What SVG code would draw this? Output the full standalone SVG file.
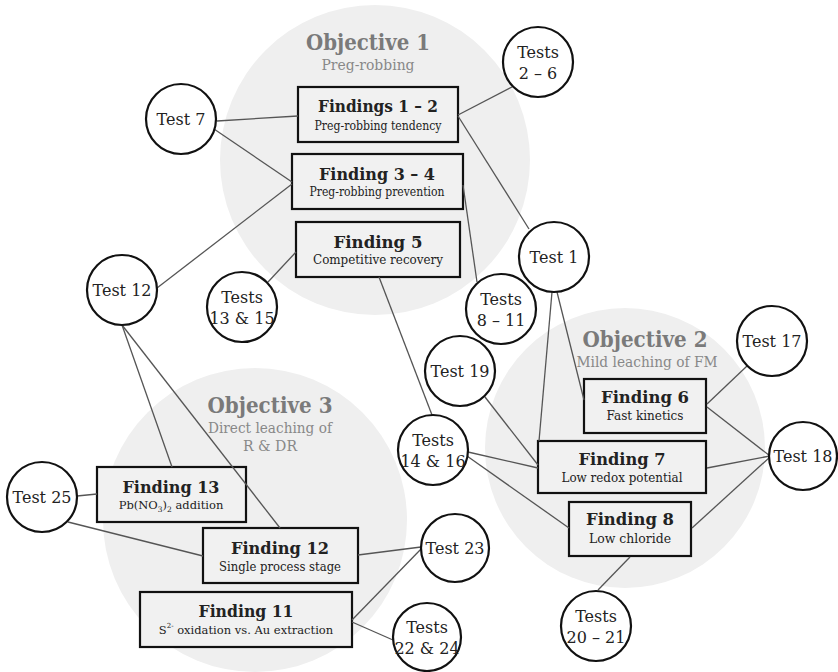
<svg xmlns="http://www.w3.org/2000/svg" width="838" height="672" viewBox="0 0 838 672">
<style>
.bg{fill:#efefef;stroke:none}
.box{fill:#f1f1f1;stroke:#111;stroke-width:2.2}
.tc{fill:#fff;stroke:#111;stroke-width:2.2}
.ln{stroke:#555;stroke-width:1.3;fill:none}
text{font-family:"DejaVu Serif","Liberation Serif",serif;text-anchor:middle;fill:#222}
.ft{font-size:16px;font-weight:bold}
.fs{font-size:13px}
.fs2{font-size:11.5px}
.tt{font-size:16px}
.ot{font-size:22px;font-weight:bold;fill:#7a7a7a}
.os{font-size:14px;fill:#888}
</style>
<rect width="838" height="672" fill="#fff"/>
<g id="objective1">
<circle class="bg" cx="375" cy="160" r="155"/>
<text class="ot" x="368" y="50" textLength="124" lengthAdjust="spacingAndGlyphs">Objective 1</text>
<text class="os" x="368" y="70" textLength="93" lengthAdjust="spacingAndGlyphs">Preg-robbing</text>
</g>
<g id="objective2">
<circle class="bg" cx="625" cy="448" r="140"/>
<text class="ot" x="645" y="347" textLength="125" lengthAdjust="spacingAndGlyphs">Objective 2</text>
<text class="os" x="647" y="367" textLength="141" lengthAdjust="spacingAndGlyphs">Mild leaching of FM</text>
</g>
<g id="objective3">
<circle class="bg" cx="255" cy="520" r="152"/>
<text class="ot" x="270" y="413" textLength="125" lengthAdjust="spacingAndGlyphs">Objective 3</text>
<text class="os" x="270" y="433" textLength="124" lengthAdjust="spacingAndGlyphs">Direct leaching of</text>
<text class="os" x="270" y="451" textLength="54" lengthAdjust="spacingAndGlyphs">R &amp; DR</text>
</g>
<g id="f12n"><rect class="box" x="298" y="87" width="160" height="55"/><text class="ft" x="378" y="112" textLength="120" lengthAdjust="spacingAndGlyphs">Findings 1 – 2</text><text class="fs" x="378" y="130" textLength="127" lengthAdjust="spacingAndGlyphs">Preg-robbing tendency</text></g>
<g id="f34"><rect class="box" x="292" y="154" width="171" height="55"/><text class="ft" x="377" y="180" textLength="116" lengthAdjust="spacingAndGlyphs">Finding 3 – 4</text><text class="fs" x="377" y="196" textLength="135" lengthAdjust="spacingAndGlyphs">Preg-robbing prevention</text></g>
<g id="f5"><rect class="box" x="296" y="222" width="164" height="55"/><text class="ft" x="378" y="248" textLength="89" lengthAdjust="spacingAndGlyphs">Finding 5</text><text class="fs" x="378" y="264" textLength="130" lengthAdjust="spacingAndGlyphs">Competitive recovery</text></g>
<g id="f6"><rect class="box" x="584" y="379" width="122" height="54"/><text class="ft" x="645" y="403" textLength="88" lengthAdjust="spacingAndGlyphs">Finding 6</text><text class="fs" x="645" y="420" textLength="77" lengthAdjust="spacingAndGlyphs">Fast kinetics</text></g>
<g id="f7"><rect class="box" x="538" y="441" width="168" height="52"/><text class="ft" x="622" y="465" textLength="87" lengthAdjust="spacingAndGlyphs">Finding 7</text><text class="fs" x="622" y="482" textLength="121" lengthAdjust="spacingAndGlyphs">Low redox potential</text></g>
<g id="f8"><rect class="box" x="569" y="502" width="122" height="54"/><text class="ft" x="630" y="525" textLength="88" lengthAdjust="spacingAndGlyphs">Finding 8</text><text class="fs" x="630" y="543" textLength="82" lengthAdjust="spacingAndGlyphs">Low chloride</text></g>
<g id="f13"><rect class="box" x="97" y="467" width="149" height="55"/><text class="ft" x="171" y="493" textLength="97" lengthAdjust="spacingAndGlyphs">Finding 13</text><text class="fs2" x="171" y="509">Pb(NO<tspan font-size="7.5" dy="3">3</tspan><tspan dy="-3">)</tspan><tspan font-size="7.5" dy="3">2</tspan><tspan dy="-3"> addition</tspan></text></g>
<g id="f12"><rect class="box" x="203" y="528" width="155" height="55"/><text class="ft" x="280" y="554" textLength="98" lengthAdjust="spacingAndGlyphs">Finding 12</text><text class="fs" x="280" y="571" textLength="122" lengthAdjust="spacingAndGlyphs">Single process stage</text></g>
<g id="f11"><rect class="box" x="140" y="592" width="212" height="55"/><text class="ft" x="246" y="617" textLength="95" lengthAdjust="spacingAndGlyphs">Finding 11</text><text class="fs2" x="246" y="634">S<tspan font-size="7" dy="-6">2-</tspan><tspan dy="6"> oxidation vs. Au extraction</tspan></text></g>
<g id="connectors">
<line class="ln" x1="217" y1="121" x2="298" y2="116"/>
<line class="ln" x1="214" y1="129" x2="292" y2="182"/>
<line class="ln" x1="157" y1="288" x2="292" y2="184"/>
<line class="ln" x1="512" y1="87" x2="458" y2="115"/>
<line class="ln" x1="458" y1="116" x2="529" y2="229"/>
<line class="ln" x1="463" y1="185" x2="477" y2="282"/>
<line class="ln" x1="296" y1="252" x2="268" y2="282"/>
<line class="ln" x1="379" y1="277" x2="432" y2="415"/>
<line class="ln" x1="557" y1="292" x2="584" y2="400"/>
<line class="ln" x1="552" y1="292" x2="539" y2="441"/>
<line class="ln" x1="485" y1="397" x2="538" y2="465"/>
<line class="ln" x1="468" y1="452" x2="538" y2="468"/>
<line class="ln" x1="467" y1="456" x2="569" y2="528"/>
<line class="ln" x1="707" y1="404" x2="747" y2="366"/>
<line class="ln" x1="707" y1="407" x2="770" y2="456"/>
<line class="ln" x1="707" y1="468" x2="770" y2="456"/>
<line class="ln" x1="692" y1="528" x2="770" y2="457"/>
<line class="ln" x1="630" y1="557" x2="598" y2="590"/>
<line class="ln" x1="122" y1="325" x2="172" y2="467"/>
<line class="ln" x1="122" y1="325" x2="280" y2="528"/>
<line class="ln" x1="77" y1="496" x2="97" y2="494"/>
<line class="ln" x1="68" y1="522" x2="203" y2="556"/>
<line class="ln" x1="358" y1="555" x2="421" y2="547"/>
<line class="ln" x1="352" y1="620" x2="422" y2="548"/>
<line class="ln" x1="352" y1="622" x2="393" y2="640"/>
</g>
<g id="t7"><circle class="tc" cx="181" cy="119" r="35"/><text class="tt" x="181" y="125">Test 7</text></g>
<g id="t2_6"><circle class="tc" cx="538" cy="62" r="35"/><text class="tt" x="538" y="58">Tests</text><text class="tt" x="538" y="79">2 – 6</text></g>
<g id="t1"><circle class="tc" cx="554" cy="257" r="35"/><text class="tt" x="554" y="263">Test 1</text></g>
<g id="t12"><circle class="tc" cx="122" cy="290" r="35"/><text class="tt" x="122" y="296">Test 12</text></g>
<g id="t13_15"><circle class="tc" cx="242" cy="307" r="35"/><text class="tt" x="242" y="303">Tests</text><text class="tt" x="242" y="324">13 &amp; 15</text></g>
<g id="t8_11"><circle class="tc" cx="501" cy="309" r="35"/><text class="tt" x="501" y="305">Tests</text><text class="tt" x="501" y="326">8 – 11</text></g>
<g id="t19"><circle class="tc" cx="460" cy="371" r="35"/><text class="tt" x="460" y="377">Test 19</text></g>
<g id="t17"><circle class="tc" cx="772" cy="341" r="35"/><text class="tt" x="772" y="347">Test 17</text></g>
<g id="t18"><circle class="tc" cx="803" cy="456" r="34"/><text class="tt" x="803" y="462">Test 18</text></g>
<g id="t14_16"><circle class="tc" cx="433" cy="450" r="35"/><text class="tt" x="433" y="446">Tests</text><text class="tt" x="433" y="467">14 &amp; 16</text></g>
<g id="t25"><circle class="tc" cx="42" cy="497" r="35"/><text class="tt" x="42" y="503">Test 25</text></g>
<g id="t23"><circle class="tc" cx="455" cy="548" r="34"/><text class="tt" x="455" y="554">Test 23</text></g>
<g id="t22_24"><circle class="tc" cx="427" cy="637" r="34"/><text class="tt" x="427" y="633">Tests</text><text class="tt" x="427" y="654">22 &amp; 24</text></g>
<g id="t20_21"><circle class="tc" cx="596" cy="626" r="35"/><text class="tt" x="596" y="622">Tests</text><text class="tt" x="596" y="643">20 – 21</text></g>
</svg>
